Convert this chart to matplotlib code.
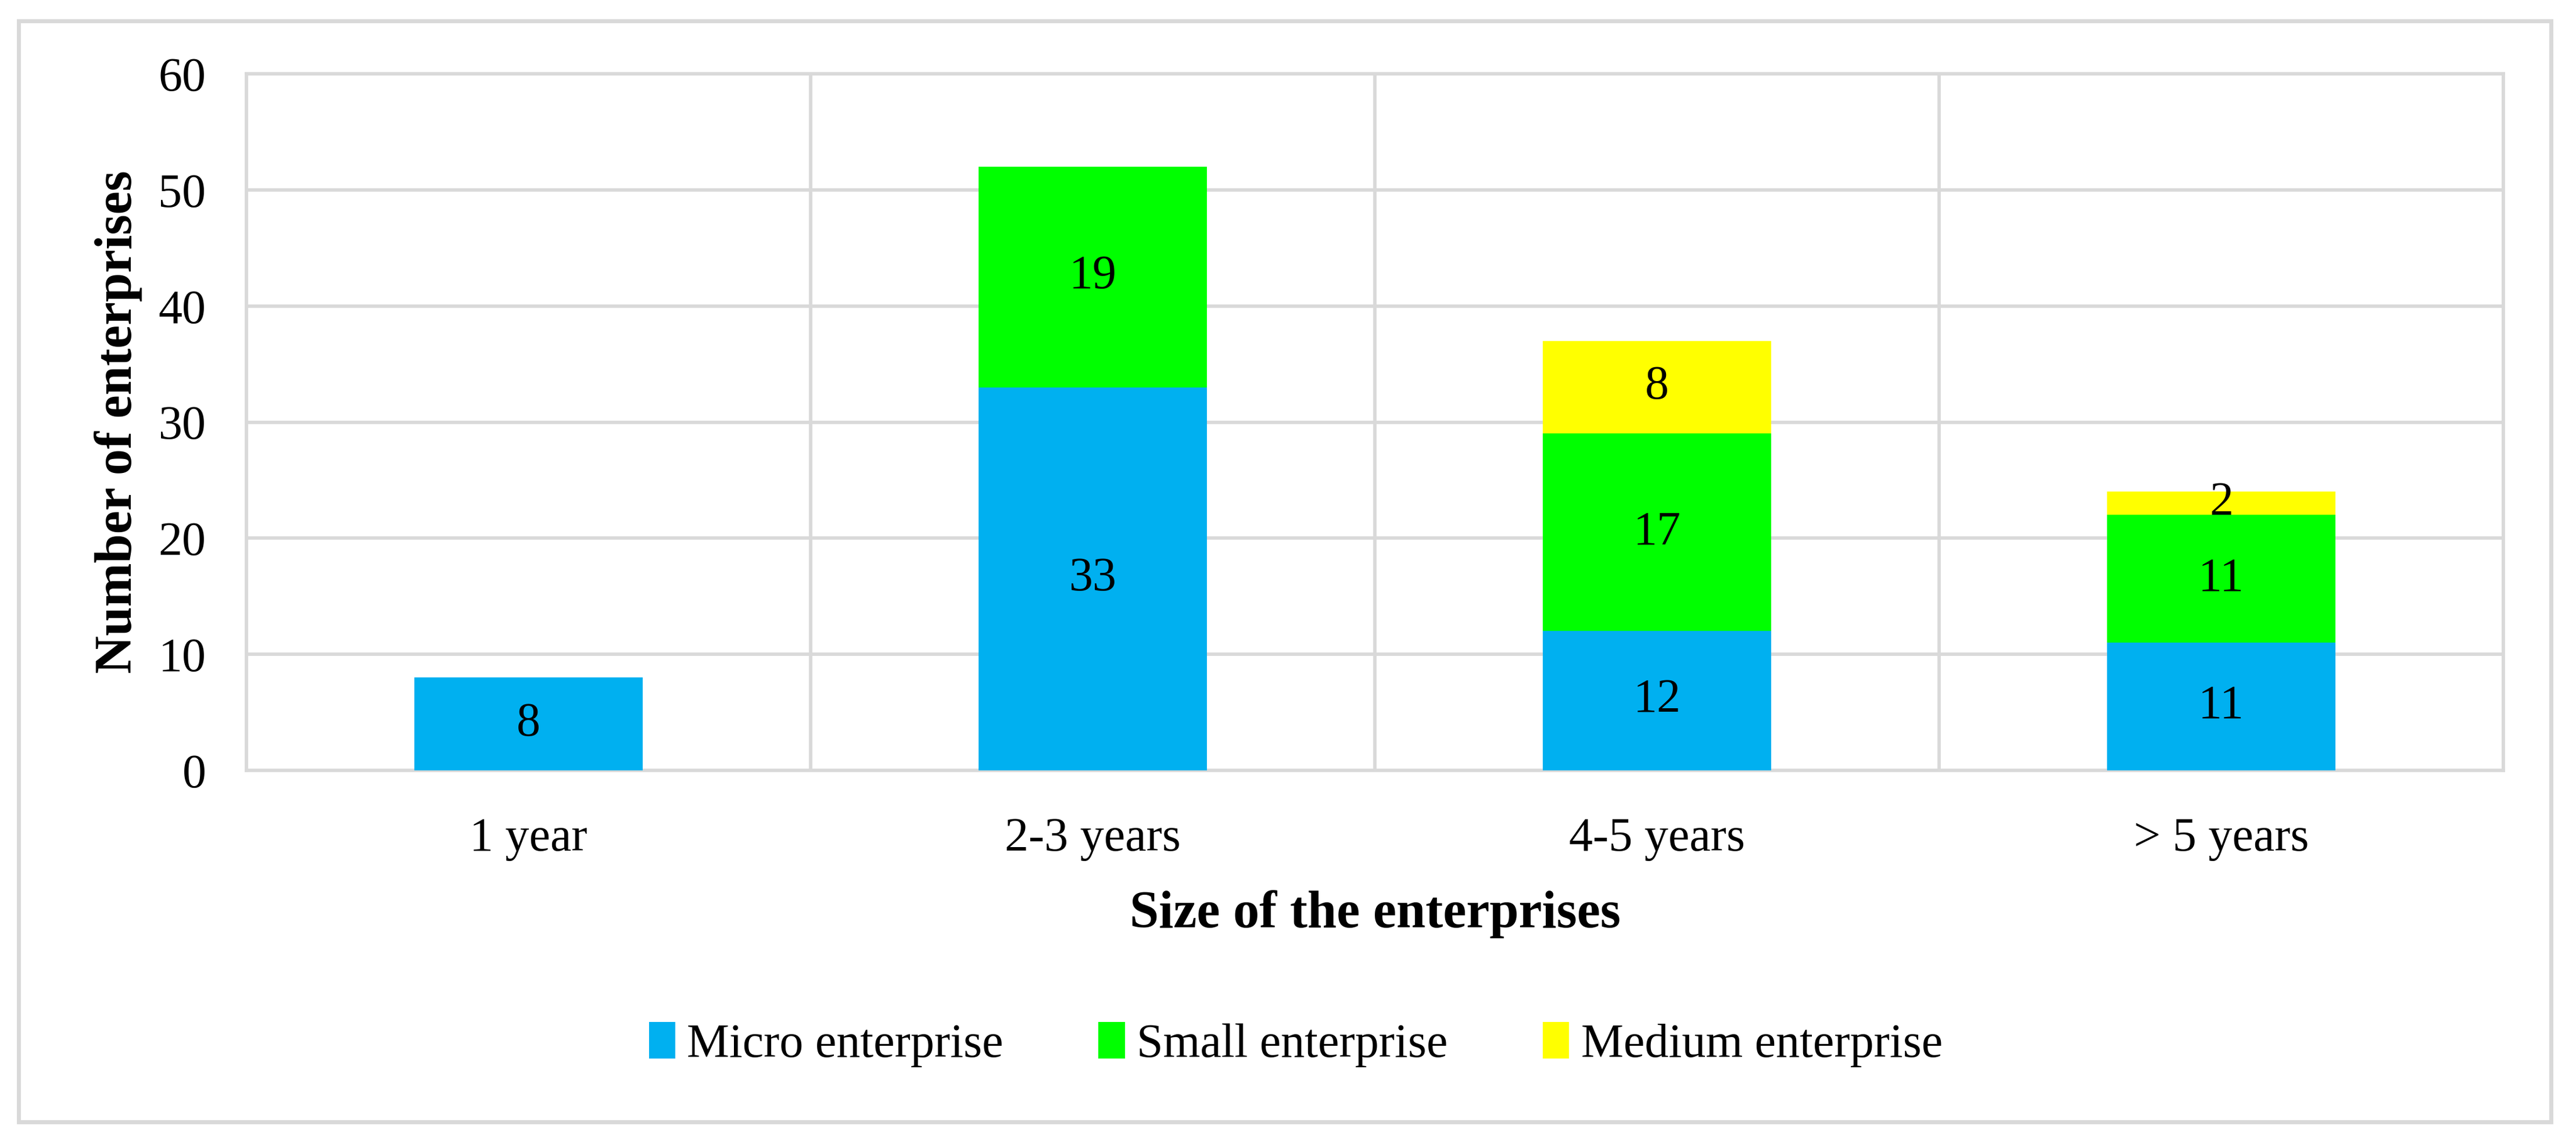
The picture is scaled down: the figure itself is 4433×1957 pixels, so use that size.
import matplotlib.pyplot as plt
from matplotlib.patches import Rectangle
import numpy as np

# data
categories = ["1 year", "2-3 years", "4-5 years", "> 5 years"]
micro = [8, 33, 12, 11]
small = [0, 19, 17, 11]
medium = [0, 0, 8, 2]
series_names = ["Micro enterprise", "Small enterprise", "Medium enterprise"]
colors = ["#00B0F0", "#00FF00", "#FFFF00"]

plt.rcParams['font.family'] = ['Liberation Serif', 'DejaVu Serif']
grid_c = "#D9D9D9"
fs = 59

fig = plt.figure(figsize=(44.33, 19.57), dpi=100)
ax = fig.add_axes([424 / 4433, 1 - 1326 / 1957, (4308 - 424) / 4433, (1326 - 127) / 1957])

x = np.arange(len(categories))
bottom = np.zeros(len(categories))
for vals, name, c in zip([micro, small, medium], series_names, colors):
    vals = np.array(vals, dtype=float)
    ax.bar(x, vals, width=0.405, bottom=bottom, color=c, label=name, zorder=3)
    for xi, b, v in zip(x, bottom, vals):
        if v > 0:
            ax.text(xi, b + v / 2, f"{int(v)}", ha="center", va="center",
                    fontsize=fs, color="black", zorder=4)
    bottom += vals

ax.set_xlim(-0.5, len(categories) - 0.5)
ax.set_ylim(0, 60)
ax.set_yticks(range(0, 61, 10))
ax.set_xticks(x)
ax.set_xticklabels(categories)
ax.set_xticks(np.arange(-0.5, len(categories)), minor=True)
ax.tick_params(axis="both", which="both", length=0, labelsize=fs)
ax.tick_params(axis="y", pad=50)
ax.tick_params(axis="x", pad=58)
ax.grid(axis="y", color=grid_c, lw=4.2, zorder=0)
ax.grid(axis="x", which="minor", color=grid_c, lw=4.2, zorder=0)
for s in ax.spines.values():
    s.set_color(grid_c)
    s.set_linewidth(4.2)

ax.set_ylabel("Number of enterprises", fontsize=65, fontweight="bold", labelpad=20)
ax.set_xlabel("Size of the enterprises", fontsize=65, fontweight="bold", labelpad=36)

fig.legend(loc="center", bbox_to_anchor=(0.503, 1 - 1798 / 1957), ncol=3, frameon=False,
           fontsize=fs, handlelength=0.55, handleheight=0.8, handletextpad=0.25,
           columnspacing=2.0)

fig.patches.append(Rectangle((32 / 4433, 1 - 1931 / 1957), (4390 - 32) / 4433, (1931 - 36) / 1957,
                             transform=fig.transFigure, fill=False, edgecolor=grid_c, lw=5))

fig.savefig("out.png", dpi=100, facecolor="white")
